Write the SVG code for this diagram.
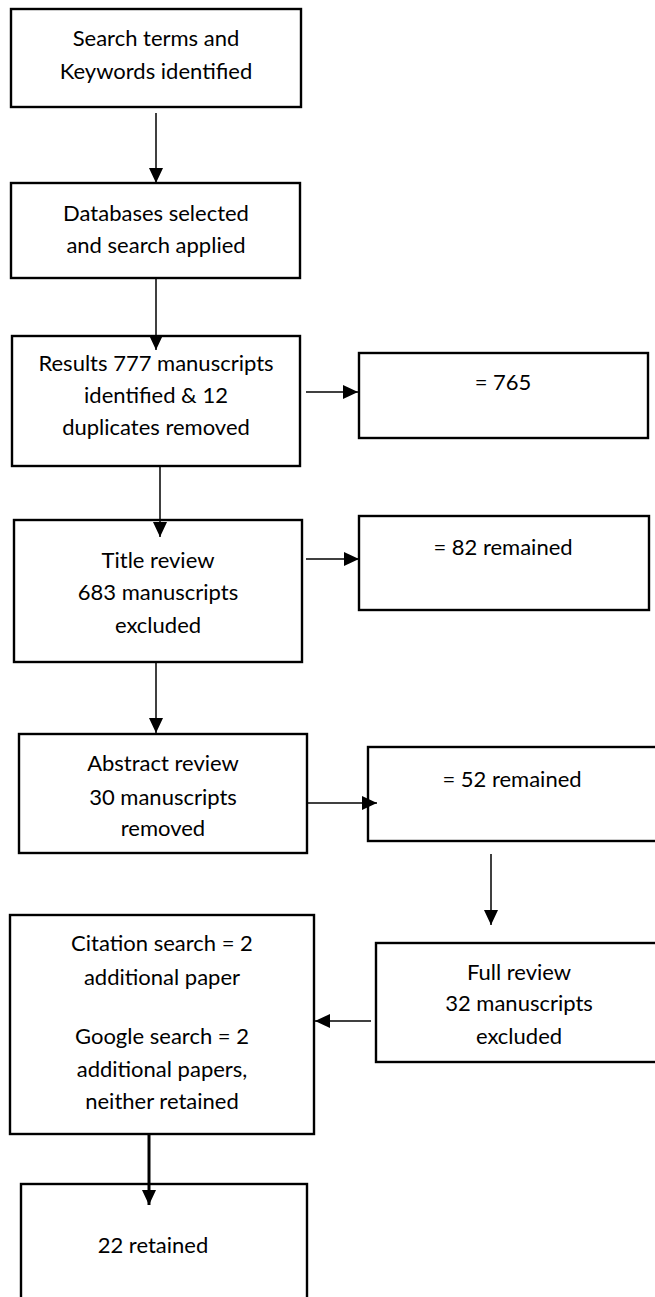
<svg xmlns="http://www.w3.org/2000/svg" width="655" height="1297" viewBox="0 0 655 1297">
<style>
  .box { fill: #ffffff; stroke: #000000; stroke-width: 2.4; }
  .t { font-family: Lato, "Open Sans", "Liberation Sans", sans-serif; font-size: 22px; fill: #000000; text-anchor: middle; }
  .ln { stroke: #000000; stroke-width: 1.5; fill: none; marker-end: url(#ah); }
  .thick { stroke: #000000; stroke-width: 3; fill: none; marker-end: url(#ah); }
</style>
<defs>
  <marker id="ah" markerUnits="userSpaceOnUse" markerWidth="15" markerHeight="14" refX="15" refY="7" orient="auto">
    <path d="M0,0 L15,7 L0,14 Z" fill="#000000"/>
  </marker>
</defs>
<rect width="655" height="1297" fill="#ffffff"/>

<g id="n1"><rect class="box" x="11" y="9" width="290" height="98"/>
  <text class="t" x="156" y="46">Search terms and</text>
  <text class="t" x="156" y="79">Keywords identified</text></g>

<g id="n2"><rect class="box" x="11" y="183" width="289" height="95"/>
  <text class="t" x="156" y="221">Databases selected</text>
  <text class="t" x="156" y="253">and search applied</text></g>

<g id="n3"><rect class="box" x="12" y="336" width="288" height="130"/>
  <text class="t" x="156" y="371">Results 777 manuscripts</text>
  <text class="t" x="156" y="403">identified &amp; 12</text>
  <text class="t" x="156" y="435">duplicates removed</text></g>

<g id="n765"><rect class="box" x="359" y="353" width="289" height="85"/>
  <text class="t" x="503" y="390">= 765</text></g>

<g id="n4"><rect class="box" x="14" y="520" width="288" height="142"/>
  <text class="t" x="158" y="568">Title review</text>
  <text class="t" x="158" y="600">683 manuscripts</text>
  <text class="t" x="158" y="633">excluded</text></g>

<g id="n82"><rect class="box" x="359" y="516" width="290" height="94"/>
  <text class="t" x="503" y="555">= 82 remained</text></g>

<g id="n5"><rect class="box" x="19" y="734" width="288" height="119"/>
  <text class="t" x="163" y="771">Abstract review</text>
  <text class="t" x="163" y="805">30 manuscripts</text>
  <text class="t" x="163" y="836">removed</text></g>

<g id="n52"><rect class="box" x="368" y="747" width="292" height="94"/>
  <text class="t" x="512" y="787">= 52 remained</text></g>

<g id="n6"><rect class="box" x="10" y="915" width="304" height="219"/>
  <text class="t" x="162" y="951">Citation search = 2</text>
  <text class="t" x="162" y="985">additional paper</text>
  <text class="t" x="162" y="1044">Google search = 2</text>
  <text class="t" x="162" y="1077">additional papers,</text>
  <text class="t" x="162" y="1109">neither retained</text></g>

<g id="n7"><rect class="box" x="376" y="943" width="290" height="119"/>
  <text class="t" x="519" y="980">Full review</text>
  <text class="t" x="519" y="1011">32 manuscripts</text>
  <text class="t" x="519" y="1044">excluded</text></g>

<g id="n8"><rect class="box" x="21" y="1184" width="286" height="125"/>
  <text class="t" x="153" y="1253">22 retained</text></g>

<g id="connectors">
  <line class="ln" x1="156" y1="113" x2="156" y2="183"/>
  <line class="ln" x1="156" y1="278" x2="156" y2="350"/>
  <line class="ln" x1="160" y1="466" x2="160" y2="537"/>
  <line class="ln" x1="156" y1="662" x2="156" y2="733"/>
  <line class="ln" x1="306" y1="392" x2="358" y2="392"/>
  <line class="ln" x1="306" y1="559" x2="359" y2="559"/>
  <line class="ln" x1="307" y1="803" x2="377" y2="803"/>
  <line class="ln" x1="491" y1="854" x2="491" y2="925"/>
  <line class="ln" x1="371" y1="1021" x2="315" y2="1021"/>
  <line class="thick" x1="149" y1="1134" x2="149" y2="1205"/>
</g>
</svg>
